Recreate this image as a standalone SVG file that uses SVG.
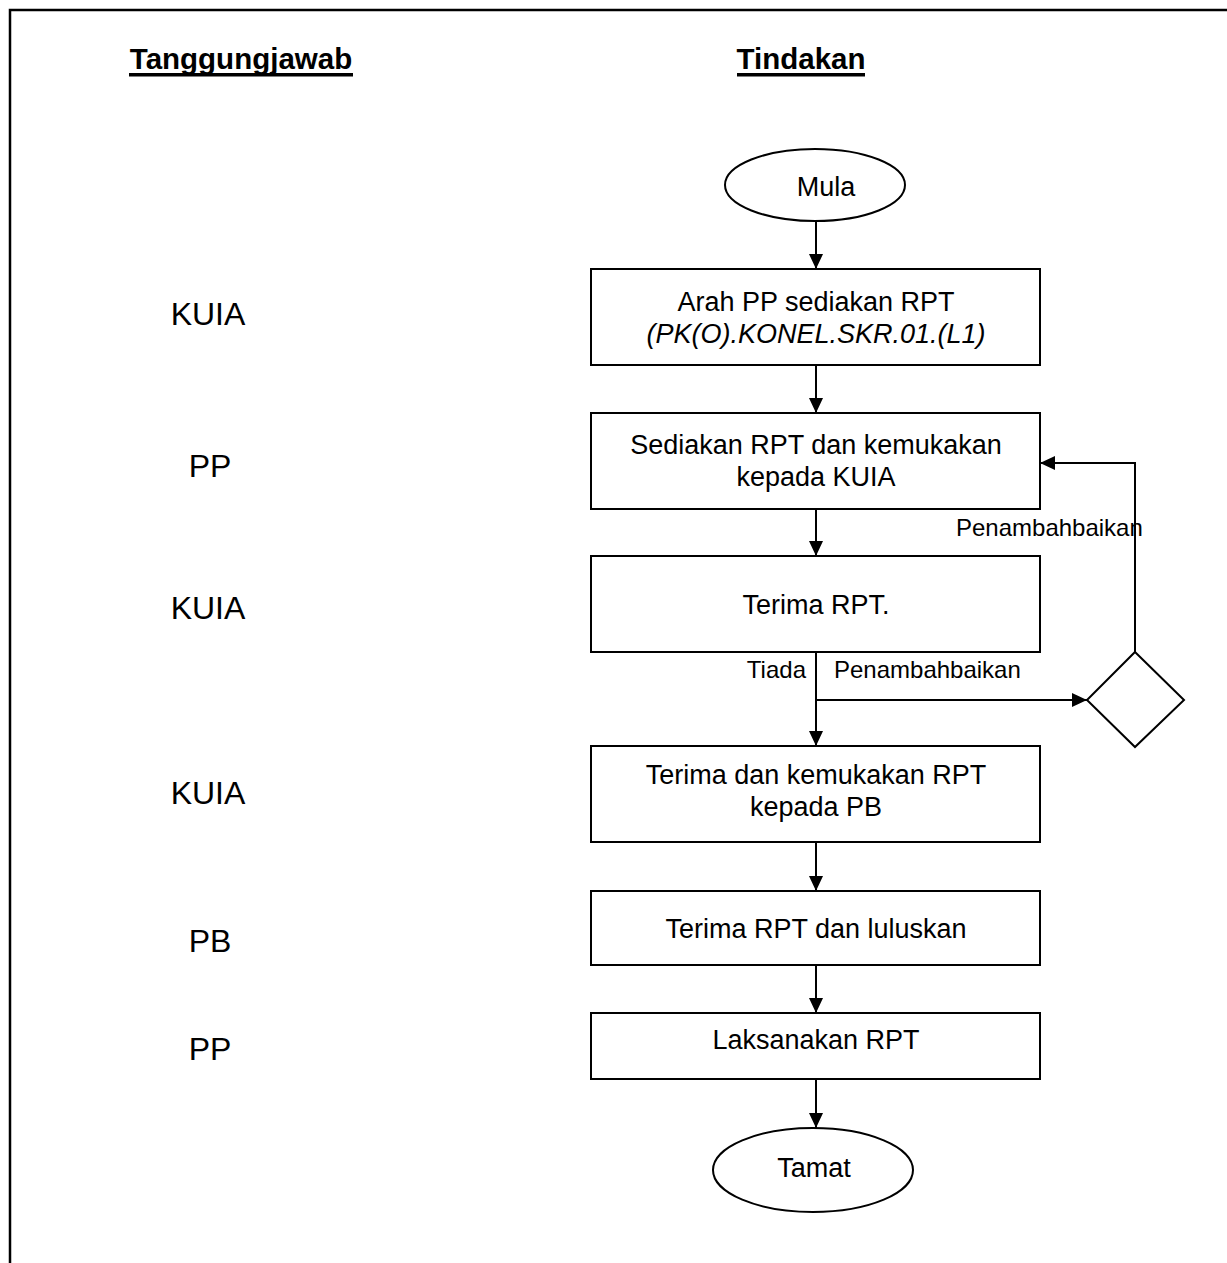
<svg xmlns="http://www.w3.org/2000/svg" width="1227" height="1263" viewBox="0 0 1227 1263">
  <defs>
    <marker id="arr" viewBox="0 0 15 14" refX="15" refY="7" markerWidth="15" markerHeight="14" markerUnits="userSpaceOnUse" orient="auto">
      <path d="M0,0 L15,7 L0,14 Z" fill="#000"/>
    </marker>
    <style>
      .shape { fill: #fff; stroke: #000; stroke-width: 2; }
      .t { font-family: "Liberation Sans", Arial, sans-serif; font-size: 27px; fill: #000; text-anchor: middle; }
      .ti { font-style: italic; }
      .lbl { font-family: "Liberation Sans", Arial, sans-serif; font-size: 32px; fill: #000; text-anchor: middle; }
      .hd { font-family: "Liberation Sans", Arial, sans-serif; font-size: 29.5px; font-weight: bold; fill: #000; text-anchor: middle; }
      .small { font-family: "Liberation Sans", Arial, sans-serif; font-size: 24px; fill: #000; }
      .conn { fill: none; stroke: #000; stroke-width: 2; }
    </style>
  </defs>
  <rect width="1227" height="1263" fill="#fff"/>
  <path d="M10,1263 L10,10 L1227,10" fill="none" stroke="#000" stroke-width="2.5"/>

  <g id="headings">
    <text class="hd" x="241" y="69">Tanggungjawab</text>
    <rect x="129" y="73" width="224" height="3.5" fill="#000"/>
    <text class="hd" x="801" y="69">Tindakan</text>
    <rect x="737" y="73" width="128" height="3.5" fill="#000"/>
  </g>

  <g id="responsibility">
    <text class="lbl" x="208" y="325">KUIA</text>
    <text class="lbl" x="210" y="477">PP</text>
    <text class="lbl" x="208" y="619">KUIA</text>
    <text class="lbl" x="208" y="804">KUIA</text>
    <text class="lbl" x="210" y="952">PB</text>
    <text class="lbl" x="210" y="1060">PP</text>
  </g>

  <g id="connectors">
    <line class="conn" x1="816" y1="221" x2="816" y2="269" marker-end="url(#arr)"/>
    <line class="conn" x1="816" y1="365" x2="816" y2="413" marker-end="url(#arr)"/>
    <line class="conn" x1="816" y1="509" x2="816" y2="556" marker-end="url(#arr)"/>
    <line class="conn" x1="816" y1="652" x2="816" y2="746" marker-end="url(#arr)"/>
    <line class="conn" x1="816" y1="700" x2="1087" y2="700" marker-end="url(#arr)"/>
    <polyline class="conn" points="1135,652 1135,463 1040,463" marker-end="url(#arr)"/>
    <line class="conn" x1="816" y1="842" x2="816" y2="891" marker-end="url(#arr)"/>
    <line class="conn" x1="816" y1="965" x2="816" y2="1013" marker-end="url(#arr)"/>
    <line class="conn" x1="816" y1="1079" x2="816" y2="1128" marker-end="url(#arr)"/>
    <text class="small" x="956" y="536">Penambahbaikan</text>
    <text class="small" x="806" y="678" text-anchor="end">Tiada</text>
    <text class="small" x="834" y="678">Penambahbaikan</text>
  </g>

  <g id="mula">
    <ellipse class="shape" cx="815" cy="185" rx="90" ry="36"/>
    <text class="t" x="826" y="196">Mula</text>
  </g>
  <g id="arah">
    <rect class="shape" x="591" y="269" width="449" height="96"/>
    <text class="t" x="816" y="311">Arah PP sediakan RPT</text>
    <text class="t ti" x="816" y="343">(PK(O).KONEL.SKR.01.(L1)</text>
  </g>
  <g id="sediakan">
    <rect class="shape" x="591" y="413" width="449" height="96"/>
    <text class="t" x="816" y="454">Sediakan RPT dan kemukakan</text>
    <text class="t" x="816" y="486">kepada KUIA</text>
  </g>
  <g id="terima">
    <rect class="shape" x="591" y="556" width="449" height="96"/>
    <text class="t" x="816" y="614">Terima RPT.</text>
  </g>
  <g id="decision">
    <polygon class="shape" points="1135,652 1184,700 1135,747 1087,700"/>
  </g>
  <g id="kemukakan">
    <rect class="shape" x="591" y="746" width="449" height="96"/>
    <text class="t" x="816" y="784">Terima dan kemukakan RPT</text>
    <text class="t" x="816" y="816">kepada PB</text>
  </g>
  <g id="luluskan">
    <rect class="shape" x="591" y="891" width="449" height="74"/>
    <text class="t" x="816" y="938">Terima RPT dan luluskan</text>
  </g>
  <g id="laksanakan">
    <rect class="shape" x="591" y="1013" width="449" height="66"/>
    <text class="t" x="816" y="1049">Laksanakan RPT</text>
  </g>
  <g id="tamat">
    <ellipse class="shape" cx="813" cy="1170" rx="100" ry="42"/>
    <text class="t" x="814" y="1177">Tamat</text>
  </g>
</svg>
